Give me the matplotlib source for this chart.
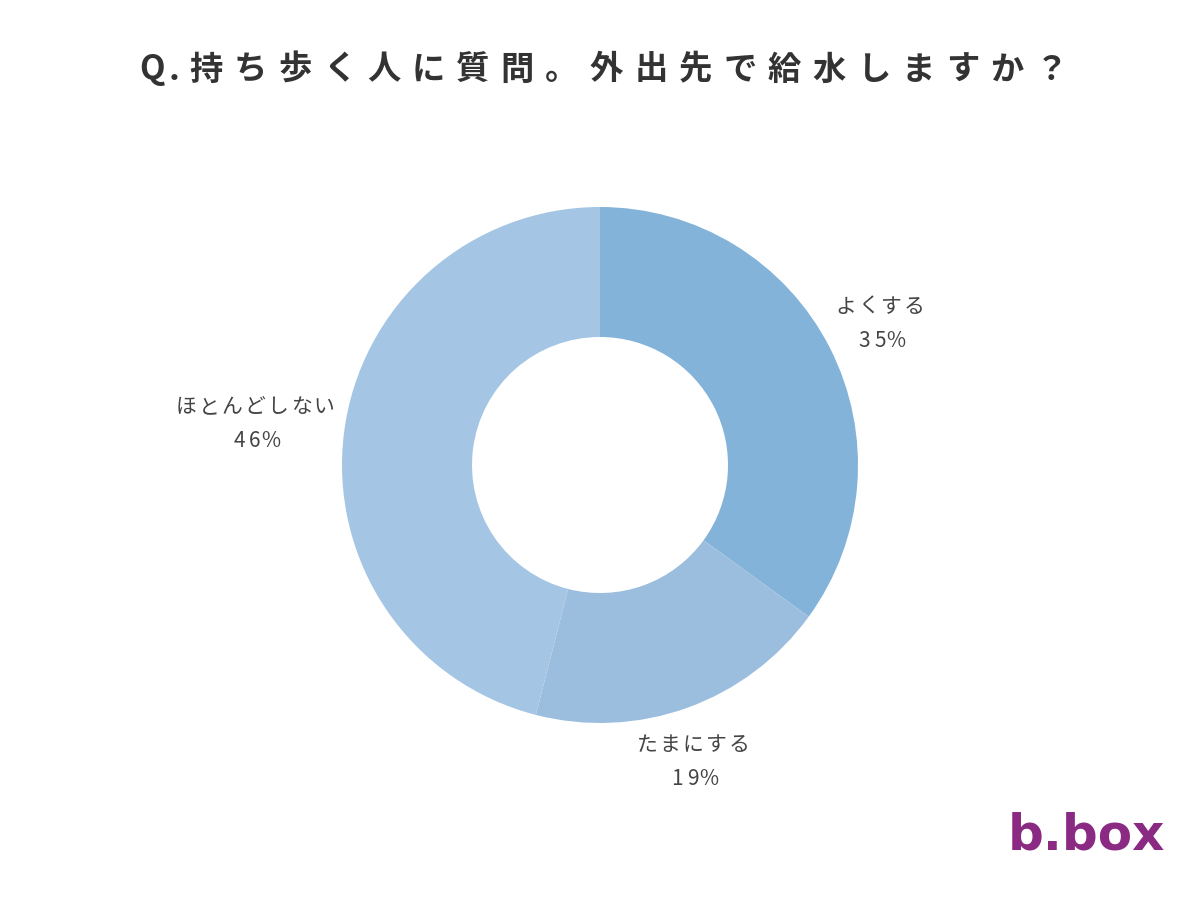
import matplotlib
matplotlib.use("Agg")
import matplotlib.pyplot as plt

plt.rcParams['font.family'] = ['Noto Sans CJK JP', 'DejaVu Sans']

categories = ["よくする", "たまにする", "ほとんどしない"]
values = [35, 19, 46]
colors = ["#84b3da", "#9bbedf", "#a4c6e4"]
label_pos = [(880, 324), (693, 762), (255, 424)]  # pixel centers
title = "Q.持ち歩く人に質問。外出先で給水しますか？"

fig = plt.figure(figsize=(12, 9), dpi=100)
fig.patch.set_facecolor("white")
W, H = 1200, 900
cx, cy, r = 600, 465, 258
ax = fig.add_axes([(cx - r) / W, 1 - (cy + r) / H, 2 * r / W, 2 * r / H])
ax.pie(values, colors=colors, startangle=90, counterclock=False,
       wedgeprops=dict(width=130 / 258, edgecolor="none"))
ax.set_aspect("auto")
ax.set_xlim(-1, 1); ax.set_ylim(-1, 1)
ax.axis("off")


def spaced(text, xc, y, step, **kw):
    n = len(text)
    x0 = xc - step * (n - 1) / 2
    for i, ch in enumerate(text):
        fig.text((x0 + i * step) / W, 1 - y / H, ch, ha="center", va="center", **kw)


for cat, v, (x, y) in zip(categories, values, label_pos):
    spaced(cat, x, y - 17, 23, fontsize=15, color="#444444")
    spaced(f"{v}%", x, y + 17, 16, fontsize=15, color="#444444")

# title with wide letter spacing
chars = ["Q", "."] + list(title[2:])
x = 152
for i, ch in enumerate(chars):
    fig.text(x / W, 1 - 70 / H, ch, ha="center", va="center", fontsize=24,
             color="#333333", fontweight="bold")
    x += 22 if ch == "Q" else (32 if ch == "." else 44.5)

fig.text(1165 / W, 1 - 835 / H, "b.box", ha="right", va="center", fontsize=36,
         color="#8a2a82", fontweight="bold", family=["DejaVu Sans"])

fig.savefig("out.png", dpi=100)
